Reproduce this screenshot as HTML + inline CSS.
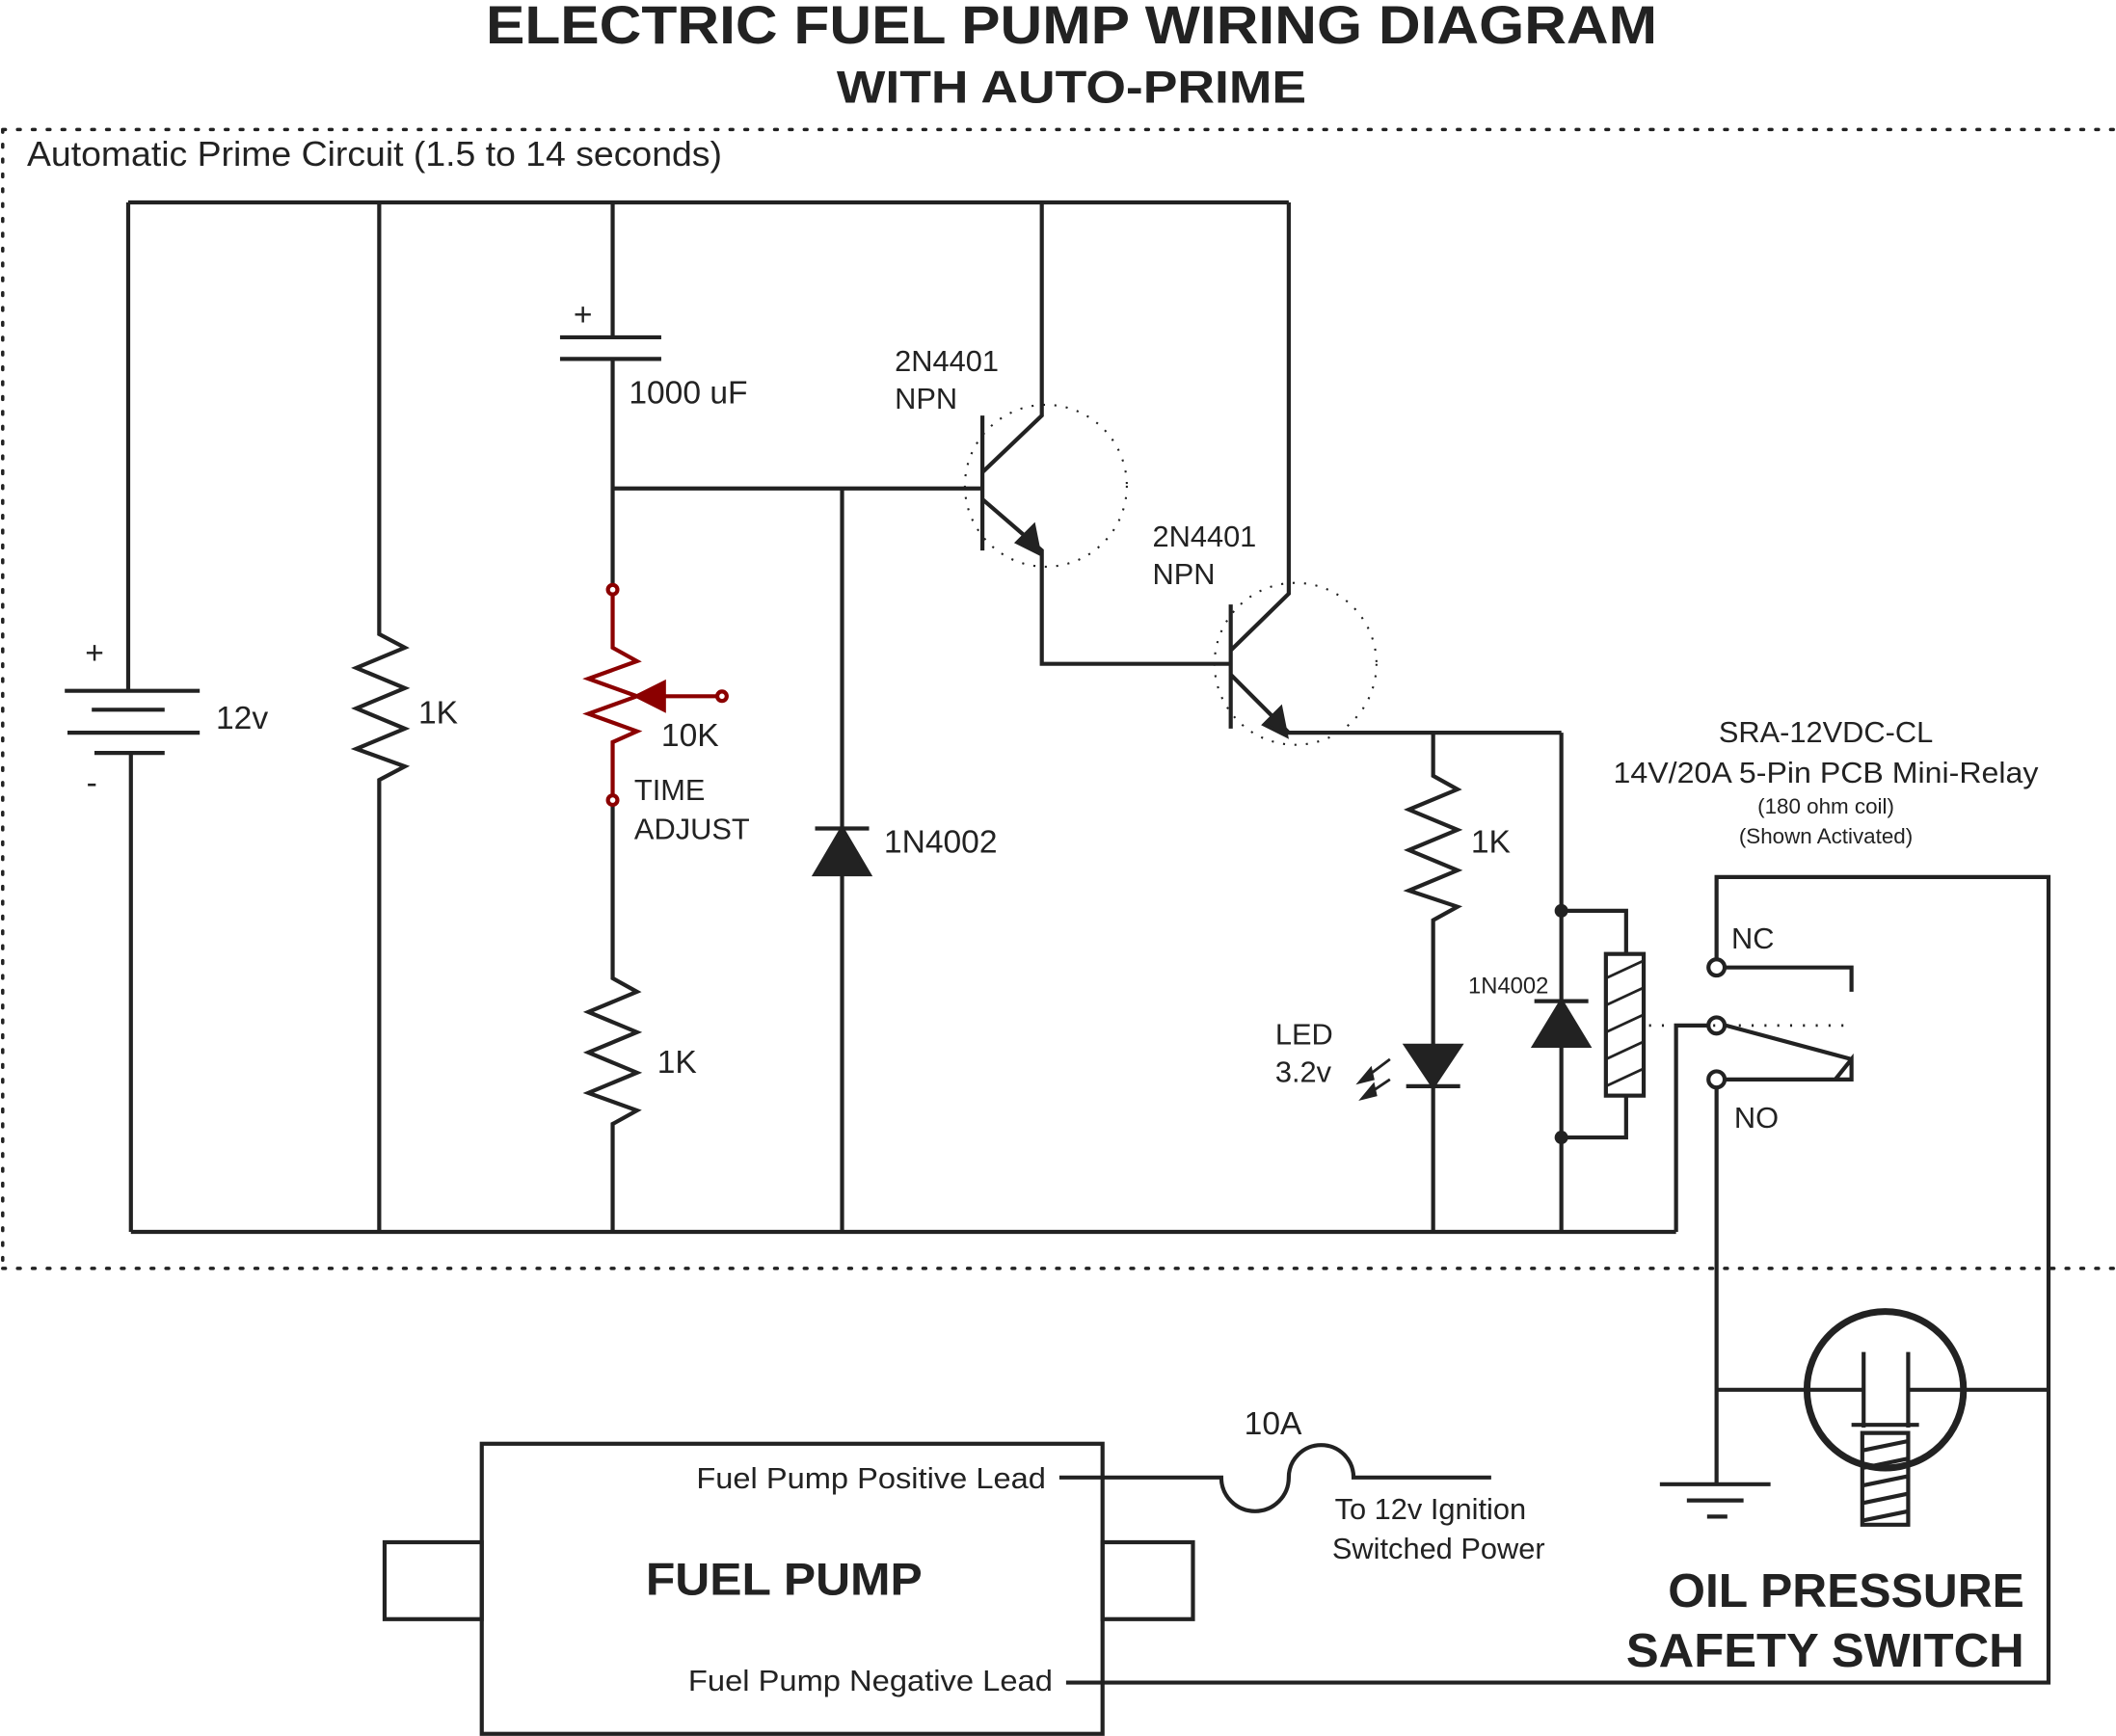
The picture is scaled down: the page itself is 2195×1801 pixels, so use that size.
<!DOCTYPE html>
<html><head><meta charset="utf-8"><style>
html,body{margin:0;padding:0;background:#fff}
svg{display:block}
text{font-family:"Liberation Sans",Arial,sans-serif;fill:#222}
</style></head><body>
<svg width="2195" height="1801" viewBox="0 0 1568 1286.6" preserveAspectRatio="none" xmlns="http://www.w3.org/2000/svg">
<g fill="none" stroke="#222" stroke-width="3">
<path d="M2 96 H1568 M2 96 V940 M2 940 H1568" stroke-width="2.5" stroke-dasharray="2 9" stroke-linecap="round"/>
<path d="M95 150 H955 M97 913 H1242"/>
<path d="M95 150 V512 M48 512 H148 M68 526 H122 M50 543 H148 M70 558 H122 M97 558 V913"/>
<path d="M281 150 V470 L300 480 L264 495 L300 510 L264 525 L300 540 L264 555 L300 568 L281 578 V913"/>
<path d="M454 150 V250 M415 250 H490 M415 266 H490 M454 266 V437 M454 362 H728"/>
<path d="M454 593 V725 L472 735 L436 750 L472 765 L436 780 L472 795 L436 810 L472 823 L454 833 V913"/>
<path d="M624 362 V913 M604 614 H644"/>
<path d="M624 614 L604 648 H644 Z" fill="#222"/>
<path d="M728 308 V408 M728 350 L772 308 V150 M728 370 L772 408 V492 H912"/>
<path d="M770 410 L754 402 L766 390 Z" fill="#222"/>
<circle cx="775" cy="360" r="60" stroke-width="1.5" stroke-dasharray="1.5 7"/>
<path d="M912 448 V540 M912 482 L955 440 V150 M912 500 L955 543 H1157"/>
<path d="M953 545 L937 537 L949 525 Z" fill="#222"/>
<circle cx="960" cy="492" r="60" stroke-width="1.5" stroke-dasharray="1.5 7"/>
<path d="M1062 543 V575 L1080 585 L1044 600 L1080 615 L1044 630 L1080 645 L1044 660 L1080 672 L1062 682 V913 M1042 805 H1082"/>
<path d="M1042 775 H1082 L1062 805 Z" fill="#222"/>
<path d="M1030 785 L1010 800 M1030 800 L1012 812" stroke-width="2"/>
<path d="M1006 803 L1016 791 L1018 800 Z M1008 815 L1018 803 L1020 812 Z" fill="#222" stroke-width="1"/>
<path d="M1157 543 V913 M1157 675 H1205 V707 M1205 812 V843 H1157 M1137 742 H1177"/>
<path d="M1157 742 L1137 775 H1177 Z" fill="#222"/>
<rect x="1190" y="707" width="28" height="105"/>
<path d="M1190 725 L1218 712 M1190 745 L1218 732 M1190 765 L1218 752 M1190 785 L1218 772 M1190 805 L1218 792" stroke-width="2"/>
<path d="M1272 711 V650 H1518 V1247 H790 M1242 913 V760 H1266 M1272 806 V1100 M1279 717 H1372 V735 M1279 760 L1372 785 M1279 800 H1372 V785 L1360 800"/>
<path d="M1222 760 H1372" stroke-width="2" stroke-dasharray="1.5 8"/>
<circle cx="1272" cy="717" r="6"/><circle cx="1272" cy="760" r="6"/><circle cx="1272" cy="800" r="6"/>
<path d="M1230 1100 H1312 M1250 1112 H1292 M1265 1124 H1280"/>
<path d="M1272 1030 H1518"/>
<circle cx="1397" cy="1030" r="58" stroke-width="5" fill="#fff"/>
<path d="M1340 1030 H1381 M1414 1030 H1454 M1381 1002 V1058 M1414 1002 V1058" stroke-width="3"/>
<path d="M1372 1056 H1422 M1380 1062 H1414 V1130 H1380 Z M1380 1075 L1414 1068 M1380 1088 L1414 1081 M1380 1101 L1414 1094 M1380 1114 L1414 1107 M1380 1127 L1414 1120" stroke-width="3"/>
<rect x="357" y="1070" width="460" height="215"/>
<rect x="285" y="1143" width="72" height="57"/>
<rect x="817" y="1143" width="67" height="57"/>
<path d="M785 1095 H905 A25 25 0 0 0 955 1095 A24 24 0 0 1 1003 1095 H1105"/>
</g>
<g fill="#222"><circle cx="1157" cy="675" r="5"/><circle cx="1157" cy="843" r="5"/></g>
<g stroke="#8b0000" stroke-width="3" fill="none">
<path d="M454 437 V480 L472 490 L436 503 L472 516 L436 529 L472 542 L454 550 V593 M535 516 H490"/>
<circle cx="454" cy="437" r="3.5" fill="#fff"/><circle cx="454" cy="593" r="3.5" fill="#fff"/><circle cx="535" cy="516" r="3.5" fill="#fff"/>
<path d="M472 516 L492 506 V526 Z" fill="#8b0000"/>
</g>
<text x="360" y="32" font-size="40" font-weight="bold" textLength="868" lengthAdjust="spacingAndGlyphs">ELECTRIC FUEL PUMP WIRING DIAGRAM</text>
<text x="620" y="76" font-size="34" font-weight="bold" textLength="348" lengthAdjust="spacingAndGlyphs">WITH AUTO-PRIME</text>
<text x="20" y="123" font-size="26" textLength="515" lengthAdjust="spacingAndGlyphs">Automatic Prime Circuit (1.5 to 14 seconds)</text>
<g font-size="24">
<text x="63" y="492">+</text><text x="64" y="588">-</text>
<text x="160" y="540">12v</text>
<text x="310" y="536">1K</text>
<text x="425" y="241">+</text>
<text x="466" y="299">1000 uF</text>
<text x="490" y="553">10K</text>
<text x="470" y="593" font-size="22">TIME</text><text x="470" y="622" font-size="22">ADJUST</text>
<text x="487" y="795">1K</text>
<text x="655" y="632">1N4002</text>
<text x="663" y="275" font-size="22">2N4401</text><text x="663" y="303" font-size="22">NPN</text>
<text x="854" y="405" font-size="22">2N4401</text><text x="854" y="433" font-size="22">NPN</text>
<text x="1090" y="632">1K</text>
<text x="945" y="774" font-size="22">LED</text><text x="945" y="802" font-size="22">3.2v</text>
<text x="1088" y="736" font-size="17">1N4002</text>
<text x="1353" y="550" font-size="22" text-anchor="middle">SRA-12VDC-CL</text>
<text x="1353" y="580" font-size="22" text-anchor="middle" textLength="315" lengthAdjust="spacingAndGlyphs">14V/20A 5-Pin PCB Mini-Relay</text>
<text x="1353" y="603" font-size="16" text-anchor="middle">(180 ohm coil)</text>
<text x="1353" y="625" font-size="16" text-anchor="middle">(Shown Activated)</text>
<text x="1283" y="703" font-size="22">NC</text>
<text x="1285" y="836" font-size="22">NO</text>
<text x="922" y="1063">10A</text>
<text x="1060" y="1126" font-size="22" text-anchor="middle">To 12v Ignition</text>
<text x="1066" y="1155" font-size="22" text-anchor="middle">Switched Power</text>
<text x="775" y="1103" font-size="22" text-anchor="end" textLength="259" lengthAdjust="spacingAndGlyphs">Fuel Pump Positive Lead</text>
<text x="780" y="1253" font-size="22" text-anchor="end" textLength="270" lengthAdjust="spacingAndGlyphs">Fuel Pump Negative Lead</text>
</g>
<text x="581" y="1182" font-size="34" font-weight="bold" text-anchor="middle" textLength="205" lengthAdjust="spacingAndGlyphs">FUEL PUMP</text>
<text x="1500" y="1191" font-size="35" font-weight="bold" text-anchor="end" textLength="264" lengthAdjust="spacingAndGlyphs">OIL PRESSURE</text>
<text x="1500" y="1235" font-size="35" font-weight="bold" text-anchor="end" textLength="295" lengthAdjust="spacingAndGlyphs">SAFETY SWITCH</text>
</svg>
</body></html>
